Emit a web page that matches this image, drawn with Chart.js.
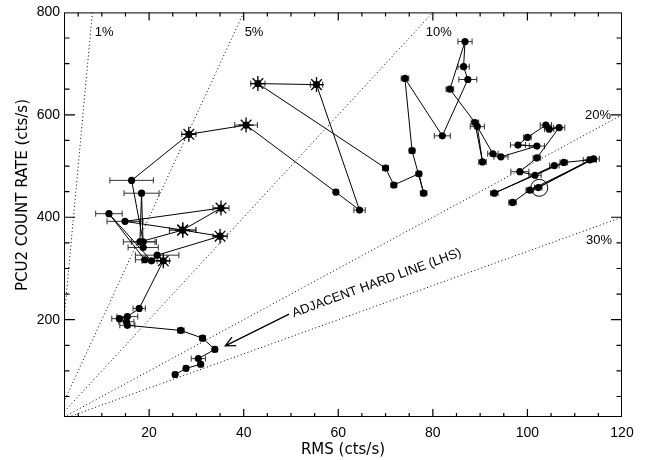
<!DOCTYPE html>
<html><head><meta charset="utf-8">
<script src="https://cdn.jsdelivr.net/npm/chart.js@4.4.1/dist/chart.umd.min.js"></script>
<style>html,body{margin:0;padding:0;background:#fff;}</style>
</head><body>
<canvas id="c" width="647" height="460"></canvas>
<script>
// ---- data, in track order ----
const rms = [25.5,27.8,30.9,30.4,33.9,31.3,26.7,15.4,15.2,13.7,15.4,17.9,
  23.0,19.1,11.5,20.5,21.7,35.0,27.1,35.2,14.9,27.1,18.05,18.4,18.75,18.75,16.3,
  28.4,40.5,59.5,64.5,55.4,43.0,70.0,71.75,77.05,78.05,75.6,74.1,82.0,87.4,86.5,86.8,83.6,
  88.9,90.5,89.4,92.7,94.4,102.0,98.0,100.0,103.9,104.6,106.7,102.0,98.4,101.6,105.7,93.0,107.7,113.2,102.3,114.0,100.5,96.85];
const rate = [93,105,113,124,142,164,179,189,196,202,206,222,
  315,317,407,315,326,363,375,418,392,375,352,447,341,352,472,
  562,580,449,414,659,661,496,463,485,447,530,671,559,669,694,743,650,
  585,508,577,524,518,539,541,556,580,572,575,516,489,482,501,447,507,512,458,514,453,429];
const rmsErr = [0.5,0.5,0.5,1.5,0.5,0.6,0.7,1.6,1.6,1.6,2.2,1.3,
  1.3,2.0,2.8,2.0,4.6,1.5,2.8,1.7,3.8,2.8,3.5,3.7,3.2,2.5,4.6,
  1.5,2.4,0.5,1.2,1.3,1.5,0.6,0.6,0.6,0.7,0.6,0.8,1.7,1.9,1.2,1.5,0.8,
  0.8,0.8,1.5,1.1,1.5,1.6,1.6,0.8,1.2,1.0,1.2,0.8,1.9,1.3,1.0,0.8,0.8,1.4,0.8,1.2,0.8,0.8];
const starFlag = [0,0,0,0,0,0,0,0,0,0,0,0,
  1,0,0,0,0,1,1,1,0,1,0,0,0,0,0,
  1,1,0,0,1,1,0,0,0,0,0,0,0,0,0,0,0,
  0,0,0,0,0,0,0,0,0,0,0,0,0,0,0,0,0,0,0,0,0,0];
const circledRms = [102.5];
const circledRate = [457.5];
const fracLevels = [0.01, 0.05, 0.10, 0.20, 0.30];
const fracLabels = ['1%', '5%', '10%', '20%', '30%'];
const xTickValues = [20, 40, 60, 80, 100, 120];
const yTickValues = [200, 400, 600, 800];
const xMinorValues = [5,10,15,20,25,30,35,40,45,50,55,60,65,70,75,80,85,90,95,100,105,110,115];
const yMinorValues = [50,100,150,200,250,300,350,400,450,500,550,600,650,700,750];
const annotationText = 'ADJACENT HARD LINE (LHS)';

// ---- build datasets ----
const trackPts = rms.map((v, i) => ({x: v, y: rate[i]}));
const starPts = trackPts.filter((p, i) => starFlag[i] === 1);
const fracSets = fracLevels.map(f => ({
  type: 'scatter', showLine: true, pointRadius: 0, borderColor: '#000', borderWidth: 1,
  borderDash: [1, 2.6], data: [{x: 0, y: 0}, (800 * f <= 120 ? {x: 800 * f, y: 800} : {x: 120, y: 120 / f})]
}));

// label anchors in data units (left/baseline)
const fracLabelAt = [[8.5, 754], [40.2, 754], [78.5, 754], [112.2, 592], [112.4, 348]];
const arrowFrom = [49.6, 211], arrowTo = [36.1, 149];
const annotationAt = [50.6, 205];

function drawTickMarks(chart) {
  const {ctx, chartArea, scales} = chart;
  const L = chartArea.left, R = chartArea.right, T = chartArea.top, B = chartArea.bottom;
  ctx.save();
  ctx.strokeStyle = '#000';
  ctx.lineWidth = 1.2;
  ctx.beginPath();
  xMinorValues.forEach(v => {
    const px = scales.x.getPixelForValue(v);
    const len = xTickValues.indexOf(v) >= 0 ? 8 : 4;
    ctx.moveTo(px, B); ctx.lineTo(px, B - len);
    ctx.moveTo(px, T); ctx.lineTo(px, T + len);
  });
  yMinorValues.forEach(v => {
    const py = scales.y.getPixelForValue(v);
    const len = yTickValues.indexOf(v) >= 0 ? 11 : 5.5;
    ctx.moveTo(L, py); ctx.lineTo(L + len, py);
    ctx.moveTo(R, py); ctx.lineTo(R - len, py);
  });
  ctx.stroke();
  ctx.lineWidth = 1;
  ctx.strokeRect(L + 0.5, T + 0.5, R - L - 1, B - T - 1);
  ctx.restore();
}

const overlay = {
  id: 'overlay',
  beforeDatasetsDraw(chart) {
    const {ctx, chartArea: a, scales: {x, y}} = chart;
    ctx.save();
    ctx.beginPath(); ctx.rect(a.left, a.top, a.right - a.left, a.bottom - a.top); ctx.clip();
    ctx.strokeStyle = '#333'; ctx.lineWidth = 1;
    for (let i = 0; i < rms.length; i++) {
      const x1 = x.getPixelForValue(rms[i] - rmsErr[i]);
      const x2 = x.getPixelForValue(rms[i] + rmsErr[i]);
      const py = y.getPixelForValue(rate[i]);
      ctx.beginPath();
      ctx.moveTo(x1, py); ctx.lineTo(x2, py);
      ctx.moveTo(x1, py - 3); ctx.lineTo(x1, py + 3);
      ctx.moveTo(x2, py - 3); ctx.lineTo(x2, py + 3);
      ctx.stroke();
    }
    ctx.restore();
  },
  afterDraw(chart) {
    const {ctx, scales: {x, y}} = chart;
    drawTickMarks(chart);
    ctx.save();
    ctx.fillStyle = '#000'; ctx.strokeStyle = '#000';
    ctx.font = '13px "Liberation Sans", Arial, sans-serif';
    ctx.textAlign = 'left'; ctx.textBaseline = 'alphabetic';
    fracLabels.forEach((t, i) => {
      ctx.fillText(t, x.getPixelForValue(fracLabelAt[i][0]), y.getPixelForValue(fracLabelAt[i][1]));
    });

    // arrow
    const ax1 = x.getPixelForValue(arrowFrom[0]), ay1 = y.getPixelForValue(arrowFrom[1]);
    const ax2 = x.getPixelForValue(arrowTo[0]), ay2 = y.getPixelForValue(arrowTo[1]);
    const ang = Math.atan2(ay2 - ay1, ax2 - ax1);
    ctx.lineWidth = 1.3;
    ctx.beginPath();
    ctx.moveTo(ax1, ay1); ctx.lineTo(ax2, ay2);
    ctx.moveTo(ax2 - 11 * Math.cos(ang - 0.45), ay2 - 11 * Math.sin(ang - 0.45));
    ctx.lineTo(ax2, ay2);
    ctx.lineTo(ax2 - 11 * Math.cos(ang + 0.45), ay2 - 11 * Math.sin(ang + 0.45));
    ctx.stroke();

    // rotated annotation
    ctx.save();
    ctx.translate(x.getPixelForValue(annotationAt[0]), y.getPixelForValue(annotationAt[1]));
    ctx.rotate(-20 * Math.PI / 180);
    ctx.fillText(annotationText, 0, 0);
    ctx.restore();

    // y title
    ctx.save();
    ctx.font = '15px "DejaVu Sans", sans-serif';
    ctx.textAlign = 'center'; ctx.textBaseline = 'middle';
    ctx.translate(23, 195);
    ctx.rotate(-Math.PI / 2);
    ctx.fillText('PCU2 COUNT RATE (cts/s)', 0, 0);
    ctx.restore();
    ctx.restore();
  }
};

new Chart(document.getElementById('c'), {
  type: 'scatter',
  data: {
    datasets: [
      {data: trackPts, showLine: true, borderColor: '#000', borderWidth: 1, pointRadius: 3.6,
       pointBackgroundColor: '#000', pointBorderWidth: 0, order: 1},
      {data: starPts, showLine: false, pointStyle: 'star', pointRadius: 7.5, borderColor: '#000',
       pointBorderWidth: 1.3, order: 0},
      {data: circledRms.map((v, i) => ({x: v, y: circledRate[i]})), showLine: false, pointRadius: 8.5,
       pointBackgroundColor: 'rgba(0,0,0,0)', borderColor: '#000', pointBorderWidth: 1, order: 0},
      ...fracSets
    ]
  },
  options: {
    responsive: false, animation: false, devicePixelRatio: 1,
    layout: {padding: {top: 8, right: 25, left: 0, bottom: 0}},
    plugins: {legend: {display: false}, tooltip: {enabled: false}},
    scales: {
      x: {type: 'linear', min: 2, max: 120,
        afterBuildTicks: s => { s.ticks = xTickValues.map(v => ({value: v})); },
        afterFit: s => { s.height = 43; },
        grid: {display: false, drawTicks: false}, border: {display: false},
        ticks: {autoSkip: false, maxRotation: 0, padding: 8, color: '#000',
          font: {family: '"Liberation Sans", Arial, sans-serif', size: 14}},
        title: {display: true, text: 'RMS (cts/s)', color: '#000', padding: {top: 0, bottom: 1},
          font: {family: '"DejaVu Sans", sans-serif', size: 15}}},
      y: {type: 'linear', min: 10, max: 800,
        afterBuildTicks: s => { s.ticks = yTickValues.map(v => ({value: v})); },
        afterFit: s => { s.width = 64; },
        grid: {display: false, drawTicks: false}, border: {display: false},
        ticks: {autoSkip: false, padding: 4, color: '#000',
          font: {family: '"Liberation Sans", Arial, sans-serif', size: 14}}}
    }
  },
  plugins: [overlay]
});
</script>
</body></html>
